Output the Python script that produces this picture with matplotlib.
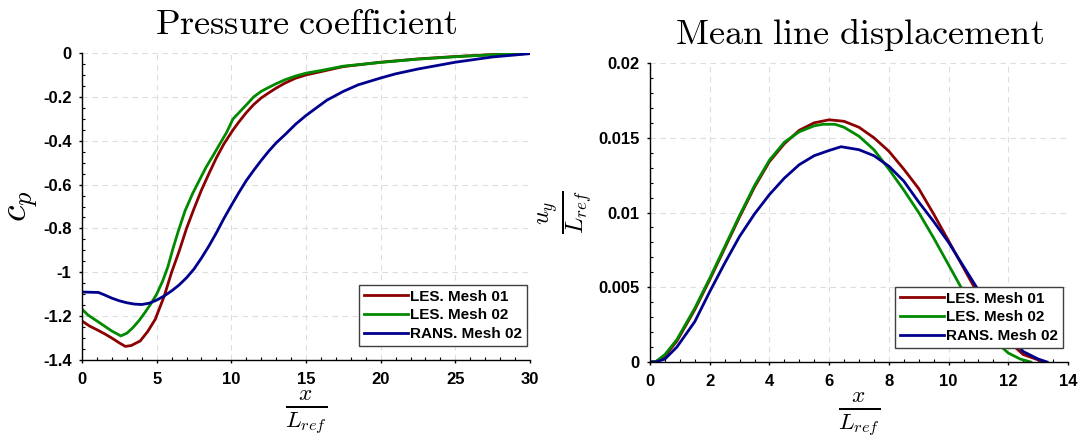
import matplotlib
matplotlib.use("Agg")
import matplotlib.pyplot as plt
from matplotlib.ticker import MultipleLocator, FuncFormatter

# ---------------- data ----------------
series_names = ["LES. Mesh 01", "LES. Mesh 02", "RANS. Mesh 02"]
series_colors = ["#8b0000", "#008a00", "#00008e"]

# Pressure coefficient
cp_x_les01 = [0, 0.5, 1, 1.5, 2, 2.5, 2.9, 3.3, 3.9, 4.4, 4.9, 5.5, 6.0, 6.5, 7.0, 7.5, 8.0, 8.5,
              9.0, 9.5, 10.1, 10.5, 11.0, 11.5, 12.0, 12.5, 13.0, 13.6, 14.3, 15.0, 16, 17.5,
              20, 22.5, 25, 27.5, 30]
cp_y_les01 = [-1.222, -1.245, -1.262, -1.28, -1.300, -1.322, -1.338, -1.334, -1.313, -1.27, -1.215,
              -1.11, -1.00, -0.905, -0.80, -0.71, -0.625, -0.55, -0.478, -0.415, -0.352, -0.315,
              -0.272, -0.235, -0.205, -0.182, -0.16, -0.137, -0.115, -0.1, -0.085, -0.062,
              -0.042, -0.027, -0.016, -0.007, -0.002]

cp_x_les02 = [0, 0.4, 1.0, 1.5, 2.0, 2.6, 3.0, 3.4, 3.8, 4.2, 4.6, 5.0, 5.4, 5.75, 6.1, 6.45, 6.9,
              7.4, 7.9, 8.3, 8.8, 9.2, 9.7, 10.1, 10.4, 11.0, 11.5, 12.0, 12.5, 13.0, 13.6, 14.3,
              15, 16, 17.5, 20, 22.5, 25, 27.5, 30]
cp_y_les02 = [-1.168, -1.195, -1.222, -1.245, -1.268, -1.29, -1.278, -1.253, -1.222, -1.185, -1.145,
              -1.10, -1.04, -0.975, -0.89, -0.812, -0.72, -0.642, -0.575, -0.522, -0.465, -0.418,
              -0.36, -0.302, -0.28, -0.237, -0.2, -0.175, -0.157, -0.14, -0.122, -0.105, -0.092,
              -0.08, -0.06, -0.043, -0.028, -0.017, -0.008, -0.002]

cp_x_rans = [0, 1.1, 1.5, 2.0, 2.5, 3.0, 3.5, 4.0, 4.5, 5.0, 5.5, 6.0, 6.5, 7.0, 7.5, 8.0, 8.5,
             9.0, 9.5, 10.0, 10.5, 11.0, 11.5, 12.0, 12.5, 13.0, 13.6, 14.3, 15.0, 15.7, 16.4,
             17.5, 18.5, 20, 21, 22.5, 25, 27.5, 30]
cp_y_rans = [-1.09, -1.092, -1.103, -1.118, -1.13, -1.139, -1.145, -1.147, -1.141, -1.127, -1.108,
             -1.085, -1.058, -1.025, -0.985, -0.935, -0.88, -0.82, -0.755, -0.695, -0.637, -0.582,
             -0.535, -0.49, -0.448, -0.41, -0.372, -0.325, -0.285, -0.25, -0.215, -0.175, -0.145,
             -0.114, -0.095, -0.073, -0.042, -0.018, -0.003]

# Mean line displacement
uy_x_les01 = [0, 0.2, 0.5, 0.9, 1.5, 2.0, 2.5, 3.0, 3.5, 4.0, 4.5, 5.0, 5.5, 6.0, 6.5, 7.0, 7.5,
              8.0, 8.5, 9.0, 9.5, 10.0, 10.5, 11.0, 11.5, 12.0, 12.5, 13.2]
uy_y_les01 = [0, 0.00002, 0.0004, 0.0014, 0.0035, 0.0055, 0.0076, 0.0097, 0.0117, 0.0134, 0.0146,
              0.0155, 0.0160, 0.0162, 0.0161, 0.0157, 0.0150, 0.0141, 0.0129, 0.0116, 0.0099,
              0.0081, 0.0063, 0.0045, 0.0028, 0.0014, 0.0005, 0.0]

uy_x_les02 = [0, 0.2, 0.5, 0.9, 1.5, 2.0, 2.5, 3.0, 3.5, 4.0, 4.5, 5.0, 5.5, 5.8, 6.2, 6.5, 7.0,
              7.5, 8.0, 8.5, 9.0, 9.5, 10.0, 10.5, 11.0, 11.5, 12.0, 12.4, 12.75]
uy_y_les02 = [0, 0.00003, 0.0005, 0.0015, 0.0036, 0.0056, 0.0077, 0.0098, 0.0118, 0.0135, 0.0147,
              0.0154, 0.0158, 0.0159, 0.0159, 0.0157, 0.0151, 0.0142, 0.0129, 0.0115, 0.0100,
              0.0083, 0.0065, 0.0047, 0.0030, 0.0015, 0.0006, 0.0002, 0.0]

uy_x_rans = [0, 0.2, 0.5, 0.9, 1.5, 2.0, 2.5, 3.0, 3.5, 4.0, 4.5, 5.0, 5.5, 6.0, 6.4, 7.0, 7.5,
             8.0, 8.5, 9.0, 9.5, 10.0, 10.5, 11.0, 11.5, 12.0, 12.5, 13.0, 13.3]
uy_y_rans = [0, 0, 0.0002, 0.0010, 0.0027, 0.0047, 0.0066, 0.0084, 0.0099, 0.0112, 0.0123, 0.0132,
             0.0138, 0.01415, 0.0144, 0.0142, 0.0138, 0.0131, 0.0121, 0.0107, 0.0094, 0.0080,
             0.0064, 0.0048, 0.0032, 0.0018, 0.0007, 0.0002, 0.0]

cp_xticks = [0, 5, 10, 15, 20, 25, 30]
cp_yticks = [0, -0.2, -0.4, -0.6, -0.8, -1, -1.2, -1.4]
uy_xticks = [0, 2, 4, 6, 8, 10, 12, 14]
uy_yticks = [0, 0.005, 0.01, 0.015, 0.02]

# ---------------- style ----------------
plt.rcParams['font.family'] = ['Liberation Sans', 'DejaVu Sans']
plt.rcParams['mathtext.fontset'] = 'cm'
plt.rcParams['axes.unicode_minus'] = False

fig = plt.figure(figsize=(10.78, 4.43), dpi=100)
ax1 = fig.add_axes([82 / 1078, 83 / 443, 448 / 1078, 307 / 443])
ax2 = fig.add_axes([650 / 1078, 81 / 443, 418 / 1078, 299 / 443])

fmt = FuncFormatter(lambda v, p: ('%g' % round(v, 6)).replace('\u2212', '-'))


def style_axes(ax, xticks, yticks, xminor, yminor):
    ax.set_xticks(xticks)
    ax.set_yticks(yticks)
    ax.xaxis.set_minor_locator(MultipleLocator(xminor))
    ax.yaxis.set_minor_locator(MultipleLocator(yminor))
    ax.xaxis.set_major_formatter(fmt)
    ax.yaxis.set_major_formatter(fmt)
    for s in ['top', 'right']:
        ax.spines[s].set_visible(False)
    for s in ['left', 'bottom']:
        ax.spines[s].set_linewidth(1.0)
    ax.tick_params(which='major', direction='out', length=2.5, width=1.0, labelsize=12)
    ax.tick_params(axis='x', which='major', pad=6)
    ax.tick_params(axis='y', which='major', pad=5)
    ax.tick_params(which='minor', direction='in', length=2.5, width=0.8)
    for lab in ax.get_xticklabels() + ax.get_yticklabels():
        lab.set_fontweight('bold')
    ax.grid(True, which='major', color='#dddddd', linestyle=(0, (5, 4)), linewidth=0.8)
    ax.set_axisbelow(True)


# Left: pressure coefficient
ax1.plot(cp_x_les01, cp_y_les01, color=series_colors[0], lw=2, label=series_names[0])
ax1.plot(cp_x_les02, cp_y_les02, color=series_colors[1], lw=2, label=series_names[1])
ax1.plot(cp_x_rans, cp_y_rans, color=series_colors[2], lw=2, label=series_names[2])
ax1.set_xlim(0, 30)
ax1.set_ylim(-1.4, 0)
style_axes(ax1, cp_xticks, cp_yticks, 1, 0.05)
ax1.set_title(r'$\mathrm{Pressure\ coefficient}$', fontsize=26, pad=14)
ax1.set_ylabel(r'$c_p$', fontsize=27, labelpad=2)
ax1.set_xlabel(r'$\frac{x}{L_{ref}}$', fontsize=24, labelpad=1)

# Right: mean line displacement
ax2.plot(uy_x_les01, uy_y_les01, color=series_colors[0], lw=2, label=series_names[0])
ax2.plot(uy_x_les02, uy_y_les02, color=series_colors[1], lw=2, label=series_names[1])
ax2.plot(uy_x_rans, uy_y_rans, color=series_colors[2], lw=2, label=series_names[2])
ax2.set_xlim(0, 14)
ax2.set_ylim(0, 0.02)
style_axes(ax2, uy_xticks, uy_yticks, 0.5, 0.001)
ax2.set_title(r'$\mathrm{Mean\ line\ displacement}$', fontsize=26, pad=14)
ax2.set_ylabel(r'$\frac{u_y}{L_{ref}}$', fontsize=25, labelpad=2)
ax2.set_xlabel(r'$\frac{x}{L_{ref}}$', fontsize=24, labelpad=1)

for ax, bx, by in ((ax1, 0.993, 0.046), (ax2, 0.988, 0.047)):
    leg = ax.legend(loc='lower right', bbox_to_anchor=(bx, by), fancybox=False,
                    framealpha=1, edgecolor='#404040', handlelength=2.9, handletextpad=0.15,
                    labelspacing=0.32, borderpad=0.3, borderaxespad=0.0,
                    prop={'weight': 'bold', 'size': 11})
    leg.get_frame().set_linewidth(1.0)

fig.savefig('out.png', dpi=100)
